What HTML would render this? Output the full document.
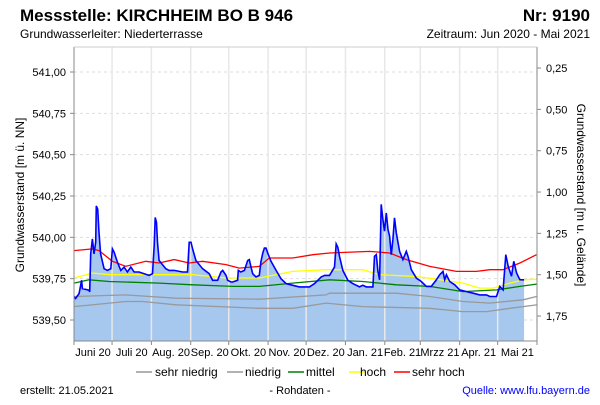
<!DOCTYPE html>
<html><head><meta charset="utf-8"><style>
body{margin:0;background:#fff;}
svg text{font-family:"Liberation Sans",sans-serif;}
</style></head><body>
<svg id="chart" width="600" height="400" xmlns="http://www.w3.org/2000/svg">
<text x="20" y="21" font-size="17" font-weight="bold">Messstelle: KIRCHHEIM BO B 946</text>
<text x="590" y="21" font-size="17" font-weight="bold" text-anchor="end">Nr: 9190</text>
<text x="20" y="38" font-size="12">Grundwasserleiter:   Niederterrasse</text>
<text x="590" y="38" font-size="12" text-anchor="end">Zeitraum: Jun 2020 - Mai 2021</text>
<g id="plot"></g>
<text transform="translate(24,195) rotate(-90)" font-size="12" text-anchor="middle">Grundwasserstand [m ü. NN]</text>
<text transform="translate(577,195) rotate(90)" font-size="12" text-anchor="middle">Grundwasserstand [m u. Gelände]</text>
<g font-size="12">
<line x1="136" y1="372" x2="152" y2="372" stroke="#999" stroke-width="1.5"/><text x="155" y="376">sehr niedrig</text>
<line x1="227" y1="372" x2="243" y2="372" stroke="#999" stroke-width="1.5"/><text x="245" y="376">niedrig</text>
<line x1="288" y1="372" x2="304" y2="372" stroke="#008000" stroke-width="1.5"/><text x="306" y="376">mittel</text>
<line x1="349" y1="372" x2="365" y2="372" stroke="#ffff00" stroke-width="1.5"/><text x="360" y="376" dx="0">hoch</text>
<line x1="394" y1="372" x2="410" y2="372" stroke="#ff0000" stroke-width="1.5"/><text x="412" y="376">sehr hoch</text>
</g>
<text x="20" y="394" font-size="11">erstellt:  21.05.2021</text>
<text x="300" y="394" font-size="11" text-anchor="middle">- Rohdaten -</text>
<text x="590" y="394" font-size="11" text-anchor="end" fill="#0000ff">Quelle: www.lfu.bayern.de</text>
</svg>
<script>
const levelDays=[0,1.3,4,6,6.6,11.8,12.4,13.2,14.5,15.8,17.1,17.6,18.7,19.7,21,23.7,26.3,29,30.3,31.6,34.2,36.9,39.5,42.1,44.8,47.4,51.3,55.3,59.2,61.9,63.2,64,65,65.8,67.1,72.4,75,79,85.6,89.5,90.8,92.2,93.5,96.1,101.4,106.6,109.3,113.2,115.9,117.2,119.8,121.1,123.8,125.1,129,129.5,131.6,134.3,136.9,138.2,139.5,140.9,143.5,146.1,147.4,148.8,150.1,151.4,152.7,155.3,159.3,163.2,167.2,172.5,177.7,185.6,189.6,194.8,197.5,201.4,205.4,206.7,208,209.3,211.9,215.9,219.8,225.1,227.7,230.4,235.6,236.9,238.3,239.6,240.9,242.2,243.5,244.8,246.2,247.5,248.8,250.1,251.4,252.7,254.1,256.7,259.3,262,263.3,265.9,269.9,273.8,277.8,281.7,285.7,288.3,290.9,292.2,293.6,296.2,300.1,304.1,309.4,314.6,319.9,325.2,327.8,333.1,335.7,338.3,340.4,342.3,344.9,346.7,348.9,351.5,354.8];
const levelValues=[539.64,539.63,539.66,539.74,539.69,539.68,539.67,539.90,539.99,539.90,539.97,540.19,540.17,540.03,539.90,539.81,539.80,539.81,539.93,539.91,539.85,539.80,539.82,539.79,539.82,539.79,539.79,539.78,539.77,539.78,539.95,540.12,540.09,539.97,539.86,539.81,539.80,539.80,539.79,539.79,539.97,539.97,539.93,539.86,539.81,539.78,539.74,539.74,539.79,539.80,539.77,539.74,539.73,539.73,539.74,539.80,539.79,539.80,539.86,539.865,539.82,539.78,539.76,539.77,539.855,539.905,539.935,539.935,539.905,539.855,539.80,539.75,539.72,539.71,539.70,539.70,539.72,539.76,539.77,539.77,539.82,539.96,539.94,539.885,539.80,539.74,539.72,539.70,539.71,539.70,539.70,539.885,539.895,539.795,539.743,540.199,540.108,540.037,540.148,540.047,540.007,539.895,539.986,540.118,540.027,539.915,539.865,539.915,539.885,539.804,539.753,539.733,539.703,539.703,539.743,539.774,539.794,539.743,539.774,539.733,539.713,539.682,539.672,539.662,539.652,539.652,539.642,539.642,539.703,539.682,539.895,539.824,539.764,539.855,539.784,539.743,539.743];
const sehrHochDays=[0,14.5,19.7,30.3,40.8,56.6,67.1,79,90.8,101.4,119.8,130.3,146.1,154,172.5,188.3,201.4,233,248.8,262,280.4,301.4,317.3,327.8,338.3,351.5,364.6];
const sehrHochValues=[539.92,539.93,539.92,539.855,539.825,539.855,539.845,539.865,539.845,539.855,539.835,539.814,539.824,539.875,539.875,539.895,539.905,539.915,539.905,539.865,539.824,539.794,539.794,539.804,539.804,539.845,539.895];
const hochDays=[0,14.5,27.6,54,93.5,119.8,146.1,159.3,172.5,198.8,227.7,240.9,267.2,280.4,306.7,319.9,330.4,343.6,354.1,364.6];
const hochValues=[539.754,539.784,539.774,539.774,539.774,539.754,539.754,539.774,539.794,539.804,539.804,539.774,539.764,539.753,539.723,539.693,539.693,539.723,539.743,539.747];
const mittelDays=[0,11.8,27.6,67.1,93.5,125.1,146.1,172.5,201.4,227.7,254.1,280.4,306.7,333.1,351.5,364.6];
const mittelValues=[539.723,539.743,539.733,539.723,539.713,539.703,539.703,539.723,539.743,539.733,539.713,539.703,539.672,539.682,539.703,539.717];
const niedrigDays=[0,40.8,80.3,146.1,198.8,201.4,254.1,280.4,306.7,327.8,354.1,364.6];
const niedrigValues=[539.642,539.652,539.632,539.626,539.652,539.662,539.662,539.642,539.612,539.602,539.622,539.642];
const sehrNiedrigDays=[0,40.8,54,80.3,146.1,172.5,198.8,227.7,280.4,306.7,325.2,343.6,364.6];
const sehrNiedrigValues=[539.581,539.612,539.612,539.592,539.571,539.571,539.602,539.581,539.571,539.551,539.551,539.571,539.591];
const leftTicks=[541.00,540.75,540.50,540.25,540.00,539.75,539.50];
const rightTicks=[0.25,0.50,0.75,1.00,1.25,1.50,1.75];
const monthStarts=[0,30,61,92,122,153,183,214,245,273,304,334,365];
const monthLabels=["Juni 20","Juli 20","Aug. 20","Sep. 20","Okt. 20","Nov. 20","Dez. 20","Jan. 21","Feb. 21","Mrzz 21","Apr. 21","Mai 21"];
const groundLevel=541.274;

const NS="http://www.w3.org/2000/svg";
const L=74,R=537,T=47,B=341;
const xs=d=>L+d*(R-L)/365;
const ys=v=>72+(541-v)*165.33;
const g=document.getElementById('plot');
function mk(tag,attrs,parent){const e=document.createElementNS(NS,tag);for(const k in attrs)e.setAttribute(k,attrs[k]);(parent||g).appendChild(e);return e;}

// grid
leftTicks.forEach(v=>{
  const l=mk('line',{x1:L,x2:R,y1:ys(v),y2:ys(v),stroke:'#ddd','stroke-dasharray':'3,3'});
  
  
});
for(let i=1;i<monthStarts.length-1;i++){
  const l=mk('line',{x1:xs(monthStarts[i]),x2:xs(monthStarts[i]),y1:T,y2:B,stroke:'#ddd','stroke-dasharray':'3,3'});
  
  
}
// area
let pts=levelDays.map((d,i)=>xs(d).toFixed(1)+','+ys(levelValues[i]).toFixed(1));
const area=mk('polygon',{points:xs(levelDays[0])+','+B+' '+pts.join(' ')+' '+xs(levelDays[levelDays.length-1])+','+B,fill:'#a6c8ef'});


// month white lines over area
for(let i=1;i<monthStarts.length-1;i++){
  const l=mk('line',{x1:xs(monthStarts[i]),x2:xs(monthStarts[i]),y1:T,y2:B,stroke:'#e8e8e8','stroke-width':1.5});
  
  
}
function series(days,vals,color,name,w){
  const p=mk('polyline',{points:days.map((d,i)=>xs(d).toFixed(1)+','+ys(vals[i]).toFixed(1)).join(' '),fill:'none',stroke:color,'stroke-width':w||1.3});
  
  
}
series(sehrNiedrigDays,sehrNiedrigValues,'#999','series-sehr-niedrig');
series(niedrigDays,niedrigValues,'#999','series-niedrig');
series(mittelDays,mittelValues,'#008000','series-mittel');
series(hochDays,hochValues,'#ffff00','series-hoch');
series(sehrHochDays,sehrHochValues,'#ff0000','series-sehr-hoch');
series(levelDays,levelValues,'#0000ff','series-groundwater-level',1.6);
// frame
const fr=mk('path',{d:`M${L},${T}V${B}H${R}V${T}`,fill:'none',stroke:'#888'});


const tp=mk('line',{x1:L,x2:R,y1:T,y2:T,stroke:'#ccc'});


leftTicks.forEach(v=>{
  mk('line',{x1:L-4,x2:L,y1:ys(v),y2:ys(v),stroke:'#888'});
  const t=mk('text',{x:L-8,y:ys(v)+4,'font-size':11,'text-anchor':'end'});
  t.textContent=v.toFixed(2).replace('.',',');
  
  
});
rightTicks.forEach(r=>{
  const y=ys(groundLevel-r);
  mk('line',{x1:R,x2:R+4,y1:y,y2:y,stroke:'#888'});
  const t=mk('text',{x:R+9,y:y+4,'font-size':11});
  t.textContent=r.toFixed(2).replace('.',',');
  
  
});
monthStarts.forEach(d=>mk('line',{x1:xs(d),x2:xs(d),y1:B,y2:B+4,stroke:'#888'}));
monthLabels.forEach((m,i)=>{
  const t=mk('text',{x:(xs(monthStarts[i])+xs(monthStarts[i+1]))/2,y:356,'font-size':11,'text-anchor':'middle'});
  t.textContent=m;
  
  
});
</script>
</body></html>
